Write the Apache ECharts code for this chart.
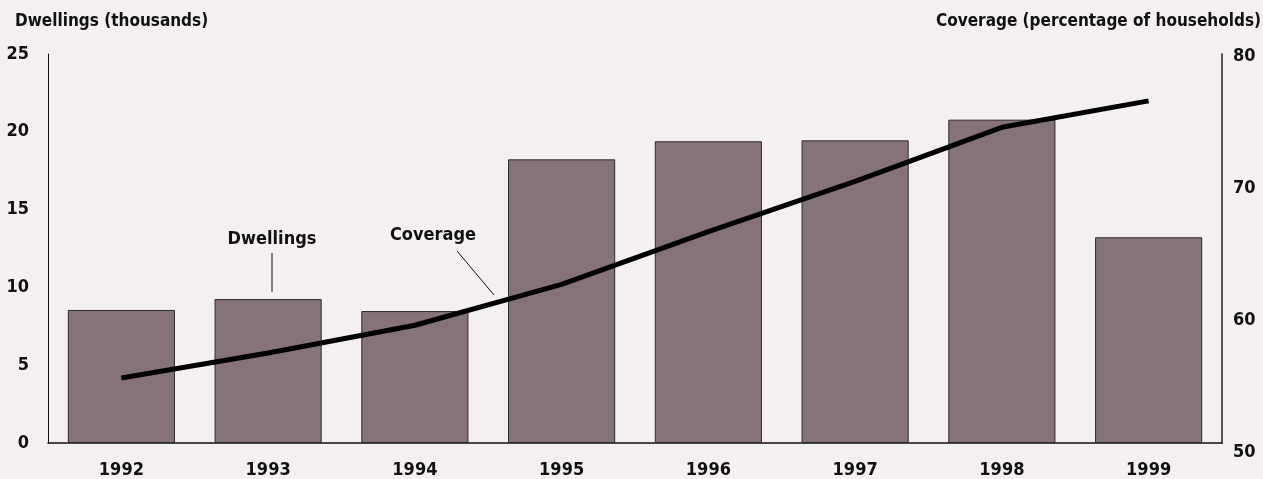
<!DOCTYPE html>
<html>
<head>
<meta charset="utf-8">
<script src="https://cdn.jsdelivr.net/npm/echarts@6/dist/echarts.min.js"></script>
<style>
html,body{margin:0;padding:0;background:#f3f0ef;}
#c{width:1263px;height:479px;}
</style>
</head>
<body>
<div id="c"></div>
<script>
var years = ['1992','1993','1994','1995','1996','1997','1998','1999'];
var dwellings = [8.55, 9.25, 8.48, 18.23, 19.39, 19.45, 20.78, 13.22];
var coverage = [55.6, 57.5, 59.6, 62.7, 66.7, 70.5, 74.6, 76.6];
var leftTicks = {min: 0, max: 25, interval: 5};
var rightTicks = {min: 50, max: 80, interval: 10};

var FONT = "'Liberation Sans Narrow','DejaVu Sans Condensed','Roboto Condensed',sans-serif";
var chart = echarts.init(document.getElementById('c'));
var lbl = {fontFamily: FONT, fontWeight: 'bold', fontSize: 18, color: '#111'};

chart.setOption({
  backgroundColor: '#f3f0ef',
  animation: false,
  grid: [
    {left: 48, right: 41, top: 54, bottom: 36},
    {left: 48, right: 41, top: 56, bottom: 27}
  ],
  xAxis: [
    {type: 'category', gridIndex: 0, data: years,
     axisLine: {show: true, lineStyle: {color: '#111', width: 1.5}},
     axisTick: {show: false},
     axisLabel: Object.assign({margin: 18}, lbl)},
    {type: 'category', gridIndex: 1, data: years, show: false}
  ],
  yAxis: [
    {type: 'value', gridIndex: 0, min: leftTicks.min, max: leftTicks.max, interval: leftTicks.interval,
     position: 'left',
     axisLine: {show: true, lineStyle: {color: '#111', width: 1}},
     axisTick: {show: false}, splitLine: {show: false},
     axisLabel: Object.assign({margin: 19}, lbl)},
    {type: 'value', gridIndex: 1, min: rightTicks.min, max: rightTicks.max, interval: rightTicks.interval,
     position: 'right',
     axisLine: {show: false}, axisTick: {show: false}, splitLine: {show: false},
     axisLabel: Object.assign({margin: 11}, lbl)},
    {type: 'value', gridIndex: 0, min: 0, max: 1, position: 'right',
     axisLine: {show: true, lineStyle: {color: '#555', width: 2}},
     axisTick: {show: false}, splitLine: {show: false}, axisLabel: {show: false}}
  ],
  graphic: [
    {type: 'text', left: 15, top: 13, style: {text: 'Dwellings (thousands)', font: 'bold 17px ' + FONT, fill: '#111'}},
    {type: 'text', right: 2, top: 13, style: {text: 'Coverage (percentage of households)', font: 'bold 17px ' + FONT, fill: '#111'}},
    {type: 'text', x: 272, y: 239, style: {text: 'Dwellings', font: 'bold 18px ' + FONT, fill: '#111', align: 'center', verticalAlign: 'middle'}},
    {type: 'line', shape: {x1: 272, y1: 253, x2: 272, y2: 292}, style: {stroke: '#111', lineWidth: 1}},
    {type: 'text', x: 433, y: 235, style: {text: 'Coverage', font: 'bold 18px ' + FONT, fill: '#111', align: 'center', verticalAlign: 'middle'}},
    {type: 'line', shape: {x1: 457, y1: 251, x2: 494, y2: 295}, style: {stroke: '#111', lineWidth: 1}}
  ],
  series: [
    {type: 'bar', xAxisIndex: 0, yAxisIndex: 0, data: dwellings, barWidth: '73%',
     itemStyle: {color: '#85727a', borderColor: '#2e2a2b', borderWidth: 1}, z: 2},
    {type: 'line', xAxisIndex: 1, yAxisIndex: 1, data: coverage, showSymbol: false, symbol: 'none',
     lineStyle: {color: '#000', width: 5}, z: 5}
  ]
});
</script>
</body>
</html>
